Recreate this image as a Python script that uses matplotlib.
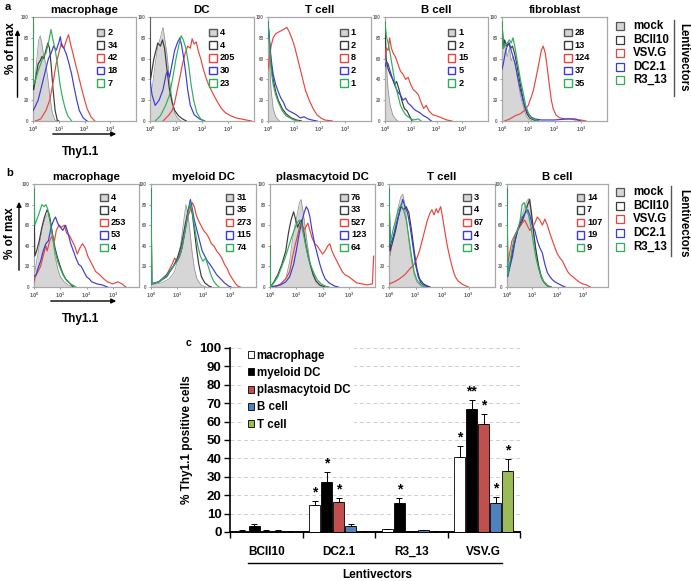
import matplotlib
matplotlib.use("Agg")
import matplotlib.pyplot as plt
from matplotlib.patches import Rectangle, Patch, FancyArrowPatch
from matplotlib.lines import Line2D

plt.rcParams['font.family'] = ['Liberation Sans', 'DejaVu Sans']
plt.rcParams['font.weight'] = 'bold'

# ---------------- DATA ----------------
vector_names = ["mock", "BCII10", "VSV.G", "DC2.1", "R3_13"]

# Panel a: histograms (x = log10 Thy1.1, y = % of max)
a_titles = ["macrophage", "DC", "T cell", "B cell", "fibroblast"]
a_mac_vals = [2, 34, 42, 18, 7]
a_dc_vals = [4, 4, 205, 30, 23]
a_t_vals = [1, 2, 8, 2, 1]
a_b_vals = [1, 2, 15, 5, 2]
a_fib_vals = [28, 13, 124, 37, 35]

a_mac_mock = [(0, 0), (0, 28), (0.05, 30), (0.15, 60), (0.22, 78), (0.28, 82), (0.34, 75), (0.42, 62), (0.5, 55), (0.58, 40), (0.66, 22), (0.75, 8), (0.85, 1), (0.95, 0)]
a_mac_bcii10 = [(0, 100), (0.02, 30), (0.1, 40), (0.2, 55), (0.28, 58), (0.35, 62), (0.42, 60), (0.5, 68), (0.58, 75), (0.64, 70), (0.7, 55), (0.78, 30), (0.86, 10), (0.94, 1), (1.0, 0)]
a_mac_vsvg = [(0.1, 0), (0.3, 2), (0.5, 10), (0.65, 20), (0.8, 40), (0.9, 55), (1.0, 65), (1.1, 75), (1.2, 70), (1.3, 78), (1.38, 83), (1.45, 75), (1.55, 65), (1.65, 55), (1.75, 45), (1.85, 35), (1.95, 25), (2.1, 12), (2.25, 4), (2.4, 0)]
a_mac_dc21 = [(0, 10), (0.05, 12), (0.2, 20), (0.35, 35), (0.5, 50), (0.6, 60), (0.7, 65), (0.8, 72), (0.9, 68), (1.0, 75), (1.06, 81), (1.12, 72), (1.2, 70), (1.3, 64), (1.4, 55), (1.5, 45), (1.6, 32), (1.7, 20), (1.8, 10), (1.95, 3), (2.1, 0)]
a_mac_r313 = [(0, 100), (0.02, 35), (0.1, 40), (0.2, 48), (0.3, 55), (0.4, 62), (0.5, 65), (0.6, 75), (0.7, 88), (0.76, 80), (0.85, 70), (0.95, 55), (1.05, 35), (1.15, 22), (1.25, 12), (1.35, 5), (1.5, 0)]

a_dc_mock = [(0, 0), (0, 20), (0.1, 35), (0.2, 55), (0.3, 72), (0.4, 80), (0.5, 90), (0.56, 80), (0.65, 65), (0.75, 40), (0.85, 20), (0.95, 8), (1.05, 3), (1.2, 0)]
a_dc_bcii10 = [(0, 100), (0.02, 40), (0.15, 60), (0.3, 75), (0.4, 72), (0.48, 78), (0.56, 70), (0.65, 50), (0.75, 30), (0.85, 18), (0.95, 10), (1.1, 5), (1.25, 2), (1.4, 0)]
a_dc_vsvg = [(0.5, 0), (0.7, 5), (0.85, 10), (0.95, 18), (1.05, 30), (1.15, 42), (1.25, 55), (1.35, 65), (1.45, 72), (1.55, 70), (1.62, 79), (1.7, 74), (1.78, 76), (1.85, 68), (1.95, 60), (2.05, 50), (2.15, 42), (2.25, 35), (2.35, 30), (2.45, 25), (2.6, 18), (2.75, 12), (2.9, 8), (3.1, 5), (3.3, 3), (3.5, 2), (3.7, 1), (3.9, 0)]
a_dc_dc21 = [(0, 40), (0.08, 25), (0.2, 15), (0.35, 20), (0.5, 30), (0.62, 45), (0.68, 48), (0.75, 42), (0.85, 55), (0.95, 68), (1.05, 75), (1.15, 80), (1.22, 72), (1.3, 60), (1.38, 45), (1.45, 30), (1.55, 15), (1.7, 6), (1.9, 2), (2.1, 0)]
a_dc_r313 = [(0.2, 0), (0.4, 5), (0.6, 15), (0.75, 25), (0.9, 45), (1.0, 60), (1.1, 72), (1.2, 82), (1.28, 78), (1.38, 70), (1.48, 55), (1.58, 35), (1.68, 20), (1.8, 8), (1.95, 2), (2.1, 0)]

a_t_mock = [(0, 0), (0, 95), (0.05, 60), (0.12, 30), (0.2, 12), (0.3, 4), (0.45, 0)]
a_t_bcii10 = [(0, 95), (0.05, 80), (0.12, 55), (0.2, 40), (0.3, 28), (0.4, 20), (0.55, 12), (0.7, 7), (0.9, 3), (1.1, 1), (1.3, 0)]
a_t_vsvg = [(0, 50), (0.05, 60), (0.12, 72), (0.2, 80), (0.3, 84), (0.45, 86), (0.6, 88), (0.73, 90), (0.82, 86), (0.95, 78), (1.05, 70), (1.15, 60), (1.25, 50), (1.35, 40), (1.45, 30), (1.6, 20), (1.75, 12), (1.9, 6), (2.05, 3), (2.2, 1), (2.5, 0)]
a_t_dc21 = [(0, 95), (0.05, 80), (0.12, 60), (0.2, 45), (0.3, 35), (0.4, 28), (0.5, 22), (0.6, 18), (0.7, 12), (0.8, 10), (0.95, 8), (1.1, 6), (1.25, 3), (1.4, 4), (1.55, 2), (1.7, 1), (1.9, 0)]
a_t_r313 = [(0, 95), (0.05, 75), (0.12, 50), (0.2, 35), (0.3, 25), (0.4, 18), (0.55, 10), (0.7, 5), (0.85, 3), (1.0, 1), (1.2, 0)]

a_b_mock = [(0, 0), (0, 95), (0.05, 55), (0.12, 30), (0.2, 15), (0.3, 6), (0.4, 2), (0.5, 0)]
a_b_bcii10 = [(0, 95), (0.04, 60), (0.12, 50), (0.2, 45), (0.3, 40), (0.38, 35), (0.45, 38), (0.55, 30), (0.65, 20), (0.75, 12), (0.85, 10), (0.95, 5), (1.05, 0)]
a_b_vsvg = [(0, 60), (0.05, 70), (0.12, 68), (0.18, 80), (0.25, 70), (0.32, 65), (0.4, 62), (0.5, 55), (0.6, 48), (0.7, 45), (0.8, 40), (0.9, 42), (1.0, 35), (1.1, 30), (1.2, 28), (1.3, 25), (1.4, 18), (1.5, 12), (1.6, 15), (1.7, 10), (1.85, 6), (2.0, 5), (2.2, 3), (2.4, 1), (2.6, 0)]
a_b_dc21 = [(0, 52), (0.05, 57), (0.12, 55), (0.2, 48), (0.3, 40), (0.4, 33), (0.5, 28), (0.6, 25), (0.7, 20), (0.8, 22), (0.9, 17), (1.0, 15), (1.1, 12), (1.2, 10), (1.35, 8), (1.5, 5), (1.65, 3), (1.8, 0)]
a_b_r313 = [(0, 95), (0.05, 82), (0.12, 75), (0.2, 65), (0.3, 50), (0.4, 35), (0.5, 25), (0.6, 15), (0.7, 10), (0.8, 6), (0.95, 3), (1.1, 1), (1.3, 2), (1.4, 0)]

a_fib_mock = [(0, 0), (0, 95), (0.05, 78), (0.12, 70), (0.2, 62), (0.28, 70), (0.35, 58), (0.42, 62), (0.5, 55), (0.6, 40), (0.7, 25), (0.8, 15), (0.9, 6), (1.0, 2), (1.15, 0)]
a_fib_bcii10 = [(0, 95), (0.05, 70), (0.1, 78), (0.18, 72), (0.25, 75), (0.32, 70), (0.4, 72), (0.48, 65), (0.56, 55), (0.65, 42), (0.75, 28), (0.85, 15), (0.95, 7), (1.05, 3), (1.2, 1), (1.4, 0)]
a_fib_vsvg = [(0.1, 0), (0.3, 2), (0.5, 5), (0.7, 7), (0.85, 10), (1.0, 15), (1.1, 22), (1.2, 30), (1.3, 42), (1.4, 55), (1.5, 68), (1.57, 72), (1.65, 65), (1.72, 52), (1.8, 35), (1.88, 20), (1.95, 12), (2.05, 6), (2.2, 3), (2.4, 2), (2.6, 2), (2.8, 1), (3.0, 1), (3.2, 0)]
a_fib_dc21 = [(0, 50), (0.05, 55), (0.12, 65), (0.2, 72), (0.28, 75), (0.35, 68), (0.42, 62), (0.5, 55), (0.6, 42), (0.7, 30), (0.8, 20), (0.9, 12), (1.0, 7), (1.1, 4), (1.25, 2), (1.5, 1), (2.0, 1), (2.5, 2), (2.8, 2), (3.0, 0)]
a_fib_r313 = [(0, 95), (0.05, 70), (0.12, 72), (0.2, 75), (0.28, 78), (0.35, 75), (0.42, 80), (0.5, 70), (0.6, 55), (0.7, 40), (0.8, 28), (0.9, 15), (1.0, 8), (1.1, 4), (1.25, 1), (1.4, 0)]

# Panel b: histograms
b_titles = ["macrophage", "myeloid DC", "plasmacytoid DC", "T cell", "B cell"]
b_mac_vals = [4, 4, 253, 53, 4]
b_mdc_vals = [31, 35, 273, 115, 74]
b_pdc_vals = [76, 33, 527, 123, 64]
b_t_vals = [3, 4, 67, 4, 3]
b_b_vals = [14, 7, 107, 19, 9]

b_mac_mock = [(0, 0), (0, 10), (0.1, 25), (0.2, 40), (0.3, 55), (0.4, 65), (0.5, 70), (0.58, 72), (0.65, 60), (0.72, 45), (0.8, 30), (0.9, 18), (1.0, 10), (1.15, 5), (1.3, 2), (1.5, 0)]
b_mac_bcii10 = [(0, 95), (0.03, 30), (0.1, 35), (0.2, 45), (0.3, 58), (0.4, 68), (0.5, 75), (0.55, 72), (0.62, 65), (0.7, 52), (0.8, 38), (0.9, 28), (1.0, 20), (1.1, 13), (1.2, 8), (1.35, 4), (1.5, 0)]
b_mac_vsvg = [(0, 5), (0.05, 10), (0.15, 15), (0.25, 20), (0.35, 30), (0.45, 40), (0.5, 35), (0.6, 45), (0.7, 50), (0.78, 45), (0.85, 55), (0.95, 60), (1.05, 58), (1.15, 60), (1.25, 52), (1.35, 50), (1.45, 45), (1.55, 40), (1.65, 32), (1.75, 38), (1.85, 42), (1.95, 38), (2.05, 30), (2.15, 25), (2.25, 20), (2.35, 15), (2.5, 12), (2.65, 8), (2.8, 5), (3.0, 3), (3.2, 5), (3.35, 3), (3.5, 0)]
b_mac_dc21 = [(0, 10), (0.08, 12), (0.15, 18), (0.25, 25), (0.35, 35), (0.45, 42), (0.55, 45), (0.65, 58), (0.75, 65), (0.82, 68), (0.9, 62), (1.0, 58), (1.1, 55), (1.2, 60), (1.3, 52), (1.4, 42), (1.5, 35), (1.6, 28), (1.7, 22), (1.8, 20), (1.9, 15), (2.0, 10), (2.1, 8), (2.2, 5), (2.4, 3), (2.6, 2), (2.8, 0)]
b_mac_r313 = [(0, 95), (0.03, 60), (0.1, 65), (0.2, 72), (0.3, 80), (0.38, 78), (0.45, 80), (0.52, 76), (0.6, 65), (0.7, 50), (0.8, 35), (0.9, 25), (1.0, 18), (1.1, 12), (1.25, 6), (1.4, 3), (1.6, 0)]

b_mdc_mock = [(0, 0), (0, 2), (0.4, 4), (0.7, 8), (0.9, 15), (1.05, 30), (1.15, 45), (1.25, 65), (1.33, 80), (1.4, 72), (1.48, 55), (1.56, 35), (1.65, 18), (1.75, 8), (1.9, 2), (2.1, 0)]
b_mdc_bcii10 = [(0, 95), (0.03, 3), (0.3, 5), (0.6, 10), (0.85, 20), (1.0, 28), (1.15, 40), (1.3, 60), (1.42, 75), (1.5, 80), (1.58, 70), (1.65, 55), (1.73, 38), (1.82, 22), (1.92, 10), (2.05, 4), (2.2, 1), (2.3, 0)]
b_mdc_vsvg = [(0, 3), (0.3, 5), (0.6, 12), (0.8, 22), (0.9, 28), (1.0, 25), (1.1, 30), (1.2, 40), (1.3, 55), (1.4, 68), (1.5, 75), (1.57, 82), (1.65, 78), (1.72, 70), (1.8, 65), (1.9, 60), (2.0, 55), (2.1, 52), (2.2, 48), (2.3, 42), (2.4, 40), (2.5, 35), (2.6, 32), (2.7, 28), (2.8, 22), (2.9, 18), (3.0, 12), (3.1, 8), (3.2, 4), (3.3, 1), (3.4, 0)]
b_mdc_dc21 = [(0, 95), (0.03, 3), (0.3, 5), (0.6, 12), (0.85, 20), (1.0, 26), (1.15, 35), (1.3, 55), (1.42, 75), (1.5, 85), (1.58, 75), (1.65, 65), (1.75, 55), (1.85, 45), (1.95, 35), (2.05, 30), (2.15, 25), (2.25, 22), (2.35, 18), (2.5, 12), (2.65, 8), (2.8, 4), (2.95, 1), (3.05, 0)]
b_mdc_r313 = [(0, 95), (0.03, 3), (0.3, 5), (0.6, 11), (0.85, 20), (1.0, 25), (1.15, 35), (1.3, 55), (1.42, 72), (1.5, 82), (1.58, 72), (1.68, 55), (1.78, 40), (1.88, 30), (1.98, 25), (2.08, 28), (2.18, 20), (2.28, 12), (2.38, 6), (2.5, 2), (2.6, 0)]

b_pdc_mock = [(0, 0), (0.4, 2), (0.6, 8), (0.75, 25), (0.85, 45), (0.95, 60), (1.05, 72), (1.12, 82), (1.18, 85), (1.25, 75), (1.33, 60), (1.42, 42), (1.52, 25), (1.62, 12), (1.75, 5), (1.9, 1), (2.1, 0)]
b_pdc_bcii10 = [(0, 40), (0.02, 0), (0.15, 5), (0.3, 12), (0.45, 22), (0.6, 35), (0.7, 52), (0.8, 65), (0.9, 73), (0.98, 65), (1.05, 58), (1.12, 62), (1.2, 65), (1.28, 55), (1.36, 42), (1.45, 30), (1.55, 20), (1.65, 12), (1.75, 6), (1.9, 2), (2.1, 0)]
b_pdc_vsvg = [(0.2, 0), (0.4, 3), (0.6, 8), (0.75, 15), (0.85, 28), (0.95, 40), (1.05, 50), (1.12, 58), (1.2, 62), (1.28, 55), (1.36, 58), (1.44, 62), (1.52, 55), (1.6, 48), (1.7, 42), (1.8, 40), (1.9, 36), (2.0, 32), (2.1, 35), (2.2, 40), (2.28, 42), (2.36, 35), (2.45, 30), (2.55, 25), (2.65, 20), (2.75, 15), (2.85, 12), (3.0, 10), (3.15, 7), (3.3, 4), (3.5, 3), (3.7, 2), (3.9, 3), (3.95, 30)]
b_pdc_dc21 = [(0, 0), (0.4, 2), (0.6, 5), (0.75, 10), (0.9, 22), (1.0, 35), (1.1, 50), (1.2, 62), (1.3, 72), (1.38, 78), (1.45, 75), (1.52, 68), (1.6, 55), (1.7, 42), (1.8, 32), (1.9, 22), (2.0, 14), (2.1, 8), (2.25, 4), (2.45, 1), (2.6, 0)]
b_pdc_r313 = [(0, 40), (0.02, 0), (0.15, 4), (0.3, 10), (0.45, 20), (0.6, 30), (0.72, 40), (0.82, 48), (0.92, 55), (1.02, 62), (1.12, 65), (1.2, 60), (1.3, 48), (1.4, 35), (1.5, 25), (1.6, 18), (1.7, 12), (1.8, 7), (1.95, 3), (2.1, 1), (2.25, 0)]

b_t_mock = [(0, 0), (0, 95), (0.05, 30), (0.15, 45), (0.25, 62), (0.35, 78), (0.45, 88), (0.52, 90), (0.6, 80), (0.68, 62), (0.76, 42), (0.85, 25), (0.95, 12), (1.05, 5), (1.2, 1), (1.3, 0)]
b_t_bcii10 = [(0, 95), (0.04, 35), (0.15, 45), (0.25, 55), (0.35, 68), (0.45, 78), (0.55, 75), (0.65, 78), (0.75, 72), (0.85, 55), (0.95, 35), (1.05, 18), (1.15, 8), (1.3, 3), (1.45, 1), (1.55, 0)]
b_t_vsvg = [(0, 3), (0.2, 5), (0.4, 8), (0.6, 12), (0.8, 18), (0.95, 22), (1.05, 28), (1.15, 35), (1.25, 45), (1.35, 55), (1.45, 65), (1.55, 72), (1.62, 75), (1.7, 70), (1.78, 76), (1.85, 72), (1.95, 78), (2.02, 68), (2.1, 55), (2.2, 40), (2.3, 28), (2.4, 18), (2.5, 10), (2.6, 6), (2.75, 3), (2.9, 1), (3.0, 0)]
b_t_dc21 = [(0, 95), (0.04, 40), (0.15, 48), (0.25, 58), (0.35, 68), (0.45, 78), (0.52, 85), (0.6, 78), (0.7, 72), (0.8, 58), (0.9, 40), (1.0, 22), (1.1, 10), (1.2, 4), (1.35, 1), (1.5, 0)]
b_t_r313 = [(0, 95), (0.04, 42), (0.15, 55), (0.25, 65), (0.35, 75), (0.45, 80), (0.55, 75), (0.65, 65), (0.75, 48), (0.85, 30), (0.95, 15), (1.05, 7), (1.2, 2), (1.35, 0)]

b_b_mock = [(0, 0), (0, 10), (0.1, 20), (0.2, 32), (0.3, 45), (0.4, 55), (0.5, 62), (0.6, 70), (0.7, 78), (0.8, 84), (0.87, 86), (0.95, 72), (1.05, 52), (1.15, 35), (1.25, 22), (1.35, 12), (1.45, 6), (1.6, 2), (1.75, 0)]
b_b_bcii10 = [(0, 95), (0.03, 15), (0.12, 22), (0.22, 35), (0.32, 45), (0.42, 55), (0.52, 60), (0.62, 65), (0.72, 72), (0.82, 80), (0.9, 85), (0.98, 70), (1.06, 52), (1.15, 35), (1.25, 20), (1.35, 10), (1.45, 5), (1.6, 1), (1.75, 0)]
b_b_vsvg = [(0, 30), (0.05, 25), (0.12, 35), (0.2, 45), (0.3, 50), (0.4, 55), (0.5, 58), (0.6, 62), (0.7, 65), (0.8, 60), (0.9, 55), (1.0, 58), (1.1, 62), (1.2, 68), (1.3, 65), (1.4, 60), (1.5, 66), (1.6, 60), (1.7, 52), (1.8, 45), (1.9, 38), (2.0, 32), (2.1, 28), (2.2, 25), (2.3, 20), (2.4, 15), (2.5, 12), (2.6, 10), (2.7, 8), (2.85, 5), (3.0, 3), (3.15, 2), (3.3, 0)]
b_b_dc21 = [(0, 95), (0.03, 10), (0.12, 20), (0.22, 30), (0.32, 45), (0.42, 55), (0.52, 62), (0.62, 68), (0.72, 72), (0.82, 75), (0.9, 70), (1.0, 60), (1.1, 55), (1.2, 45), (1.3, 38), (1.4, 33), (1.5, 22), (1.6, 14), (1.7, 10), (1.8, 7), (1.9, 5), (2.05, 3), (2.2, 1), (2.3, 0)]
b_b_r313 = [(0, 95), (0.03, 12), (0.12, 25), (0.22, 40), (0.32, 50), (0.42, 55), (0.52, 65), (0.6, 80), (0.68, 82), (0.76, 76), (0.85, 70), (0.95, 58), (1.05, 42), (1.15, 28), (1.25, 18), (1.35, 10), (1.45, 5), (1.6, 1), (1.7, 0)]

# Panel c: bar chart
c_groups = ["BCII10", "DC2.1", "R3_13", "VSV.G"]
c_cells = ["macrophage", "myeloid DC", "plasmacytoid DC", "B cell", "T cell"]
c_macrophage = [0.7, 14.5, 1.5, 41]
c_macrophage_err = [0.3, 2.5, 0.3, 6]
c_myeloid = [3, 27, 15.5, 67]
c_myeloid_err = [1.5, 5.5, 3, 4.5]
c_pdc = [0.6, 16.5, 0.5, 58.5]
c_pdc_err = [0.3, 2, 0.3, 5.5]
c_bcell = [0.6, 3.5, 1.0, 16]
c_bcell_err = [0.3, 1, 0.3, 3]
c_tcell = [0.4, 0.6, 0.5, 33]
c_tcell_err = [0.2, 0.2, 0.2, 6.5]
c_macrophage_sig = ["", "*", "", "*"]
c_myeloid_sig = ["", "*", "*", "**"]
c_pdc_sig = ["", "*", "", "*"]
c_bcell_sig = ["", "", "", "*"]
c_tcell_sig = ["", "", "", "*"]
c_yticks = [0, 10, 20, 30, 40, 50, 60, 70, 80, 90, 100]

# ---------------- STYLE / LAYOUT ----------------
W, H = 691, 581
MOCK_FILL = "#d6d6d6"
MOCK_EDGE = "#8c8c8c"
LINE_COLORS = ["#3a3a3a", "#e8463c", "#3b3bd6", "#2fae5a"]
BOX_EDGES = ["#555555", "#3a3a3a", "#e8463c", "#3b3bd6", "#2fae5a"]
BAR_COLORS = ["white", "black", "#c0504d", "#4f81bd", "#9bbb59"]

fig = plt.figure(figsize=(W / 100, H / 100), dpi=100)


def rect(l, t, w, h):
    return [l / W, 1 - (t + h) / H, w / W, h / H]


def fx(px):
    return px / W


def fy(py):
    return 1 - py / H


def draw_hist(ax, curves, vals, title, legx, legy):
    xs, ys = zip(*curves[0])
    ax.fill_between(xs, ys, color=MOCK_FILL, lw=0, zorder=1)
    ax.plot(xs, ys, color=MOCK_EDGE, lw=0.5, zorder=2)
    for c, col in zip(curves[1:], LINE_COLORS):
        xs, ys = zip(*c)
        ax.plot(xs, ys, color=col, lw=0.85, zorder=3)
    ax.set_xlim(0, 4)
    ax.set_ylim(0, 100)
    for s in ax.spines.values():
        s.set_color("#a8a8a8")
        s.set_linewidth(0.9)
    ax.set_xticks([0, 1, 2, 3])
    ax.set_xticklabels([r"$10^{%d}$" % k for k in range(4)])
    ax.set_yticks([0, 20, 40, 60, 80, 100])
    ax.tick_params(labelsize=3.3, length=1.5, width=0.5, pad=1.5,
                   colors="#777777", labelcolor="#666666")
    ax.set_title(title, fontsize=8.2, fontweight="bold", pad=3)
    bw, bh = 7.5 / 104, 7.5 / 104
    dy = 12.6 / 104
    for i, v in enumerate(vals):
        yc = legy - i * dy
        fc = MOCK_FILL if i == 0 else "white"
        ax.add_patch(Rectangle((legx, yc - bh / 2), bw, bh, transform=ax.transAxes,
                               fc=fc, ec=BOX_EDGES[i], lw=1.0, zorder=5, clip_on=False))
        ax.text(legx + bw + 0.03, yc, str(v), transform=ax.transAxes, fontsize=6.6,
                fontweight="bold", va="center", ha="left", zorder=5)


def side_legend(y_centers, line_x, line_y0, line_y1, lent_y):
    for i, (name, yc) in enumerate(zip(vector_names, y_centers)):
        fc = MOCK_FILL if i == 0 else "white"
        fig.add_artist(Rectangle((fx(616), fy(yc + 4)), 8 / W, 8 / H, transform=fig.transFigure,
                                 fc=fc, ec=BOX_EDGES[i], lw=0.9))
        fig.text(fx(633), fy(yc), name, fontsize=8.3, fontweight="bold", va="center", ha="left")
    fig.add_artist(Line2D([fx(line_x), fx(line_x)], [fy(line_y0), fy(line_y1)],
                          transform=fig.transFigure, color="#555555", lw=1))
    fig.text(fx(683), fy(lent_y), "Lentivectors", rotation=-90, fontsize=8.3,
             fontweight="bold", va="center", ha="center")


def arrow(x0, y0, x1, y1):
    fig.add_artist(FancyArrowPatch((fx(x0), fy(y0)), (fx(x1), fy(y1)), transform=fig.transFigure,
                                   arrowstyle="-|>", mutation_scale=7, lw=1.0, color="black"))


# ---- row a ----
a_curves = [
    [a_mac_mock, a_mac_bcii10, a_mac_vsvg, a_mac_dc21, a_mac_r313],
    [a_dc_mock, a_dc_bcii10, a_dc_vsvg, a_dc_dc21, a_dc_r313],
    [a_t_mock, a_t_bcii10, a_t_vsvg, a_t_dc21, a_t_r313],
    [a_b_mock, a_b_bcii10, a_b_vsvg, a_b_dc21, a_b_r313],
    [a_fib_mock, a_fib_bcii10, a_fib_vsvg, a_fib_dc21, a_fib_r313],
]
a_vals = [a_mac_vals, a_dc_vals, a_t_vals, a_b_vals, a_fib_vals]
a_lefts = [33, 150, 268, 385, 502]
a_widths = [103, 104, 103, 103, 105]
a_legx = [0.62, 0.57, 0.70, 0.61, 0.59]
for i in range(5):
    ax = fig.add_axes(rect(a_lefts[i], 17, a_widths[i], 104))
    draw_hist(ax, a_curves[i], a_vals[i], a_titles[i], a_legx[i], 0.85)

# ---- row b ----
b_curves = [
    [b_mac_mock, b_mac_bcii10, b_mac_vsvg, b_mac_dc21, b_mac_r313],
    [b_mdc_mock, b_mdc_bcii10, b_mdc_vsvg, b_mdc_dc21, b_mdc_r313],
    [b_pdc_mock, b_pdc_bcii10, b_pdc_vsvg, b_pdc_dc21, b_pdc_r313],
    [b_t_mock, b_t_bcii10, b_t_vsvg, b_t_dc21, b_t_r313],
    [b_b_mock, b_b_bcii10, b_b_vsvg, b_b_dc21, b_b_r313],
]
b_vals = [b_mac_vals, b_mdc_vals, b_pdc_vals, b_t_vals, b_b_vals]
b_lefts = [34, 151, 270, 389, 507]
b_widths = [105, 105, 105, 106, 101]
b_legx = [0.63, 0.71, 0.67, 0.70, 0.69]
for i in range(5):
    ax = fig.add_axes(rect(b_lefts[i], 184, b_widths[i], 103))
    draw_hist(ax, b_curves[i], b_vals[i], b_titles[i], b_legx[i], 0.87)

side_legend([26, 40, 53, 67, 80], 674, 20, 96, 57)
side_legend([192, 206, 219, 233, 247], 671, 186, 256, 223)

# labels & arrows for rows a/b
fig.text(fx(8), fy(7), "a", fontsize=8, fontweight="bold", va="center", ha="center")
fig.text(fx(10), fy(173), "b", fontsize=8, fontweight="bold", va="center", ha="center")
fig.text(fx(11), fy(48), "% of max", rotation=90, fontsize=8.5, fontweight="bold", va="center", ha="center")
arrow(17.5, 100, 17.5, 27)
fig.text(fx(10.5), fy(233), "% of max", rotation=90, fontsize=8.5, fontweight="bold", va="center", ha="center")
arrow(19, 273, 19, 199)
arrow(50, 134, 119, 134)
fig.text(fx(81), fy(152), "Thy1.1", fontsize=8.5, fontweight="bold", va="center", ha="center")
arrow(48, 301, 119, 301)
fig.text(fx(81), fy(319), "Thy1.1", fontsize=8.5, fontweight="bold", va="center", ha="center")

# ---- panel c ----
axc = fig.add_axes(rect(230, 348, 290, 184))
series = [c_macrophage, c_myeloid, c_pdc, c_bcell, c_tcell]
errs = [c_macrophage_err, c_myeloid_err, c_pdc_err, c_bcell_err, c_tcell_err]
sigs = [c_macrophage_sig, c_myeloid_sig, c_pdc_sig, c_bcell_sig, c_tcell_sig]
bw = 0.152
step = 0.165
xpos = list(range(len(c_groups)))
for k, (vals, err, sig, col, lab) in enumerate(zip(series, errs, sigs, BAR_COLORS, c_cells)):
    xs = [x + (k - 2) * step for x in xpos]
    axc.bar(xs, vals, width=bw, color=col, edgecolor="black", linewidth=0.6, label=lab, zorder=3)
    axc.errorbar(xs, vals, yerr=[[0] * len(vals), err], fmt="none", ecolor="black",
                 elinewidth=0.7, capsize=2, capthick=0.7, zorder=4)
    for x, v, e, s in zip(xs, vals, err, sig):
        if s:
            axc.text(x, v + e + 0.8, s, ha="center", va="bottom", fontsize=10, fontweight="bold")

axc.set_xlim(-0.5, len(c_groups) - 0.5)
axc.set_ylim(0, 100)
axc.set_yticks(c_yticks)
axc.set_yticklabels([str(t) for t in c_yticks], fontsize=9.5, fontweight="bold")
axc.set_xticks([x - 0.5 for x in range(len(c_groups) + 1)])
axc.set_xticklabels([])
axc.set_xticks(xpos, minor=True)
axc.set_xticklabels(c_groups, minor=True, fontsize=8.5, fontweight="bold")
axc.tick_params(axis="x", which="minor", length=0, pad=10)
axc.tick_params(axis="x", which="major", length=4, width=1, direction="out")
axc.tick_params(axis="y", length=4, width=1, direction="out", pad=2)
for t in c_yticks[1:]:
    axc.axhline(t, color="#cfcfcf", lw=0.7, ls=(0, (4, 3)), zorder=0)
axc.spines["top"].set_visible(False)
axc.spines["right"].set_visible(False)
axc.spines["left"].set_linewidth(1.2)
axc.spines["bottom"].set_linewidth(1.4)
axc.set_ylabel("% Thy1.1 positive cells", fontsize=8.5, fontweight="bold", labelpad=5)

handles = [Patch(fc=c, ec="black", lw=0.6) for c in BAR_COLORS]
leg = axc.legend(handles, c_cells, loc="upper left", bbox_to_anchor=(0.03, 1.04),
                 fontsize=8.3, handlelength=0.55, handleheight=0.55, handletextpad=0.2,
                 labelspacing=0.45, borderpad=0.3, frameon=True, fancybox=False)
leg.get_frame().set_facecolor("white")
leg.get_frame().set_edgecolor("none")
leg.get_frame().set_alpha(1)
for t in leg.get_texts():
    t.set_fontweight("bold")

fig.add_artist(Line2D([fx(248), fx(502)], [fy(563), fy(563)], transform=fig.transFigure,
                      color="black", lw=1))
fig.text(fx(377), fy(575), "Lentivectors", fontsize=8.5, fontweight="bold", va="center", ha="center")
fig.text(fx(188), fy(343), "c", fontsize=7.5, fontweight="bold", va="center", ha="center")

fig.savefig("out.png", dpi=100)
